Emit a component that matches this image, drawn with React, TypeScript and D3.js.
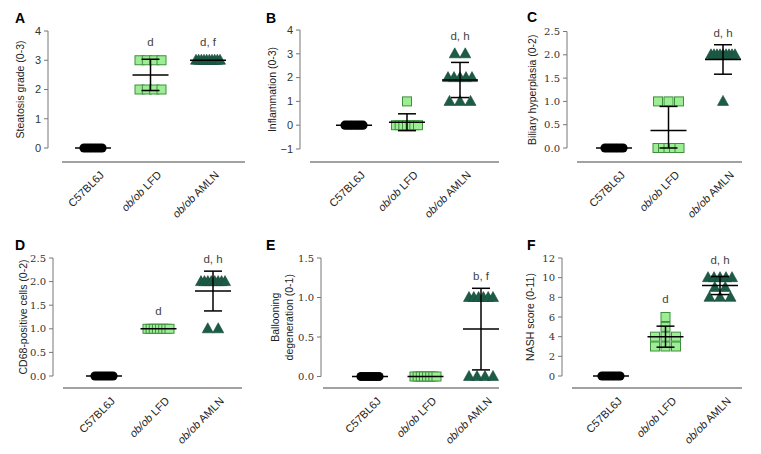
import React from 'react';
import * as d3 from 'd3';

// ---------- data ----------
const categories = ['C57BL6J', 'ob/ob LFD', 'ob/ob AMLN'];

// A: Steatosis grade (0-3)
const steatosisC57 = [0, 0, 0, 0, 0, 0, 0, 0];
const steatosisLFD = [3, 3, 3, 3, 2, 2, 2, 2];
const steatosisAMLN = [3, 3, 3, 3, 3, 3, 3, 3, 3, 3];
const steatosisSig = ['', 'd', 'd, f'];
const steatosisTicks = [0, 1, 2, 3, 4];

// B: Inflammation (0-3)
const inflammationC57 = [0, 0, 0, 0, 0, 0, 0, 0];
const inflammationLFD = [1, 0, 0, 0, 0, 0, 0, 0];
const inflammationAMLN = [3, 3, 2, 2, 2, 2, 2, 1, 1, 1];
const inflammationSig = ['', '', 'd, h'];
const inflammationTicks = [-1, 0, 1, 2, 3, 4];

// C: Biliary hyperplasia (0-2)
const biliaryC57 = [0, 0, 0, 0, 0, 0, 0, 0];
const biliaryLFD = [1, 1, 1, 0, 0, 0, 0, 0];
const biliaryAMLN = [2, 2, 2, 2, 2, 2, 2, 2, 2, 1];
const biliarySig = ['', '', 'd, h'];
const biliaryTicks = [0, 0.5, 1, 1.5, 2, 2.5];

// D: CD68-positive cells (0-2)
const cd68C57 = [0, 0, 0, 0, 0, 0, 0, 0];
const cd68LFD = [1, 1, 1, 1, 1, 1, 1, 1];
const cd68AMLN = [2, 2, 2, 2, 2, 2, 2, 2, 1, 1];
const cd68Sig = ['', 'd', 'd, h'];
const cd68Ticks = [0, 0.5, 1, 1.5, 2, 2.5];

// E: Ballooning degeneration (0-1)
const balloonC57 = [0, 0, 0, 0, 0, 0, 0, 0];
const balloonLFD = [0, 0, 0, 0, 0, 0, 0, 0];
const balloonAMLN = [1, 1, 1, 1, 1, 1, 0, 0, 0, 0];
const balloonSig = ['', '', 'b, f'];
const balloonTicks = [0, 0.5, 1, 1.5];

// F: NASH score (0-11)
const nashC57 = [0, 0, 0, 0, 0, 0, 0, 0];
const nashLFD = [6, 5, 4, 4, 4, 3, 3, 3];
const nashAMLN = [10, 10, 10, 10, 10, 9, 9, 8, 8, 8];
const nashSig = ['', 'd', 'd, h'];
const nashTicks = [0, 2, 4, 6, 8, 10, 12];

// ---------- layout ----------
const SANS = 'Liberation Sans, Arial, sans-serif';
const SERIF = 'DejaVu Serif, serif';

type Panel = {
  letter: string; lx: number; ly: number;
  axisX: number; yTop: number; yBottom: number;
  xAxisY: number; xAxisFrom: number; xAxisTo: number;
  catFrom: number; catTo: number;
  titleX: number; title: string[];
  domain: [number, number]; ticks: number[]; fmt: (v: number) => string; tickFont: string;
  groups: number[][]; sig: string[];
};

const f0 = d3.format('d');
const f1 = d3.format('.1f');

const panels: Panel[] = [
  { letter: 'A', lx: 15, ly: 23, axisX: 48, yTop: 31, yBottom: 148, xAxisY: 162, xAxisFrom: 62, xAxisTo: 245,
    catFrom: 93, catTo: 208, titleX: 20, title: ['Steatosis grade (0-3)'], domain: [0, 4], ticks: steatosisTicks,
    fmt: f0, tickFont: SANS, groups: [steatosisC57, steatosisLFD, steatosisAMLN], sig: steatosisSig },
  { letter: 'B', lx: 266, ly: 23, axisX: 300, yTop: 30, yBottom: 149, xAxisY: 162, xAxisFrom: 310, xAxisTo: 499,
    catFrom: 354, catTo: 460, titleX: 272, title: ['Inflammation (0-3)'], domain: [-1, 4], ticks: inflammationTicks,
    fmt: f0, tickFont: SANS, groups: [inflammationC57, inflammationLFD, inflammationAMLN], sig: inflammationSig },
  { letter: 'C', lx: 527, ly: 22, axisX: 567, yTop: 31.5, yBottom: 148, xAxisY: 162, xAxisFrom: 577, xAxisTo: 742,
    catFrom: 614, catTo: 723, titleX: 532, title: ['Biliary hyperplasia (0-2)'], domain: [0, 2.5], ticks: biliaryTicks,
    fmt: f1, tickFont: SERIF, groups: [biliaryC57, biliaryLFD, biliaryAMLN], sig: biliarySig },
  { letter: 'D', lx: 15, ly: 250, axisX: 53, yTop: 258, yBottom: 376, xAxisY: 388, xAxisFrom: 63, xAxisTo: 242,
    catFrom: 104, catTo: 213, titleX: 23, title: ['CD68-positive cells (0-2)'], domain: [0, 2.5], ticks: cd68Ticks,
    fmt: f1, tickFont: SERIF, groups: [cd68C57, cd68LFD, cd68AMLN], sig: cd68Sig },
  { letter: 'E', lx: 266, ly: 250, axisX: 321, yTop: 258, yBottom: 376.5, xAxisY: 388, xAxisFrom: 323, xAxisTo: 499,
    catFrom: 370, catTo: 481, titleX: 281, title: ['Ballooning', 'degeneration (0-1)'], domain: [0, 1.5], ticks: balloonTicks,
    fmt: f1, tickFont: SERIF, groups: [balloonC57, balloonLFD, balloonAMLN], sig: balloonSig },
  { letter: 'F', lx: 527, ly: 250, axisX: 562, yTop: 258, yBottom: 376, xAxisY: 388, xAxisFrom: 572, xAxisTo: 742,
    catFrom: 611, catTo: 720, titleX: 530, title: ['NASH score (0-11)'], domain: [0, 12], ticks: nashTicks,
    fmt: f0, tickFont: SERIF, groups: [nashC57, nashLFD, nashAMLN], sig: nashSig },
];

const MARK = 9;
const MAXW = [27, 31, 33];
const SQUARE_FILL = '#9ded95';
const SQUARE_STROKE = '#3f8f3f';
const TRI_FILL = '#1c5c46';

function swarm(values: number[], maxW: number): { v: number; dx: number }[] {
  const groups = d3.group(values, (v) => v);
  const out: { v: number; dx: number }[] = [];
  groups.forEach((arr, v) => {
    const k = arr.length;
    const sp = k > 1 ? Math.min(10.5, (maxW - MARK) / (k - 1)) : 0;
    arr.forEach((_, i) => out.push({ v, dx: (i - (k - 1) / 2) * sp }));
  });
  return out;
}

function Marker({ kind, x, y }: { kind: number; x: number; y: number }) {
  if (kind === 0) return <circle cx={x} cy={y} r={4.6} fill="#000" />;
  if (kind === 1)
    return <rect x={x - 4.5} y={y - 4.5} width={9} height={9} fill={SQUARE_FILL} stroke={SQUARE_STROKE} strokeWidth={1} />;
  return <path d={`M${x},${y - 6}L${x + 5.5},${y + 4}L${x - 5.5},${y + 4}Z`} fill={TRI_FILL} stroke="#164a38" strokeWidth={0.6} />;
}

function PanelView({ p }: { p: Panel }) {
  const y = d3.scaleLinear().domain(p.domain).range([p.yBottom, p.yTop]).clamp(true);
  const x = d3.scalePoint<string>().domain(categories).range([p.catFrom, p.catTo]);
  const midY = (p.yTop + p.yBottom) / 2;
  return (
    <g>
      <text x={p.lx} y={p.ly} fontFamily={SANS} fontWeight="bold" fontSize={14} fill="#000">{p.letter}</text>
      {/* y axis */}
      <line x1={p.axisX} x2={p.axisX} y1={y(p.domain[1])} y2={y(p.domain[0])} stroke="#777" strokeWidth={1} />
      {p.ticks.map((t) => (
        <g key={t}>
          <line x1={p.axisX - 4} x2={p.axisX} y1={y(t)} y2={y(t)} stroke="#777" strokeWidth={1} />
          <text x={p.axisX - 7} y={y(t)} dy="0.35em" textAnchor="end" fontFamily={p.tickFont} fontSize={p.tickFont === SERIF ? 10 : 11} fill="#333">
            {p.fmt(t)}
          </text>
        </g>
      ))}
      {/* y title */}
      <text transform={`translate(${p.titleX},${midY}) rotate(-90)`} textAnchor="middle" fontFamily={SANS} fontSize={10.5} fill="#222">
        {p.title.map((t, i) => (
          <tspan key={i} x={0} dy={i === 0 ? (p.title.length > 1 ? '-0.2em' : '0.35em') : '1.3em'}>{t}</tspan>
        ))}
      </text>
      {/* x axis */}
      <line x1={p.xAxisFrom} x2={p.xAxisTo} y1={p.xAxisY} y2={p.xAxisY} stroke="#444" strokeWidth={1} />
      {categories.map((c) => {
        const italic = c.startsWith('ob/ob');
        return (
          <text key={c} transform={`translate(${(x(c) as number) + 9},${p.xAxisY + 11}) rotate(-45)`} textAnchor="end"
            fontFamily={SANS} fontSize={11} fill="#222" dy="0.35em">
            {italic ? (<><tspan fontStyle="italic">ob/ob</tspan>{c.slice(5)}</>) : c}
          </text>
        );
      })}
      {/* points */}
      {p.groups.map((vals, gi) => {
        const cx = x(categories[gi]) as number;
        return (
          <g key={gi}>
            {swarm(vals, MAXW[gi]).map((d, i) => (
              <Marker key={i} kind={gi} x={cx + d.dx} y={y(d.v)} />
            ))}
          </g>
        );
      })}
      {/* mean +/- SD */}
      {p.groups.map((vals, gi) => {
        const cx = x(categories[gi]) as number;
        const m = d3.mean(vals) as number;
        const sd = d3.deviation(vals) || 0;
        const yHi = y(m + sd);
        const yLo = y(m - sd);
        const top = Math.min(y(d3.max(vals) as number) - 6, yHi);
        return (
          <g key={'e' + gi} stroke="#000" strokeWidth={1.5}>
            <line x1={cx - 18} x2={cx + 18} y1={y(m)} y2={y(m)} />
            {sd > 0 && (
              <>
                <line x1={cx} x2={cx} y1={yHi} y2={yLo} />
                <line x1={cx - 9} x2={cx + 9} y1={yHi} y2={yHi} />
                <line x1={cx - 9} x2={cx + 9} y1={yLo} y2={yLo} />
              </>
            )}
            {p.sig[gi] && (
              <text x={cx} y={top - 8} textAnchor="middle" fontFamily={SANS} fontSize={11.5} fill="#444" stroke="none">
                {p.sig[gi]}
              </text>
            )}
          </g>
        );
      })}
    </g>
  );
}

export default function App() {
  return (
    <svg width={761} height={454} style={{ position: 'absolute', left: 0, top: 0, background: '#fff' }}>
      <rect width={761} height={454} fill="#fff" />
      {panels.map((p) => (
        <PanelView key={p.letter} p={p} />
      ))}
    </svg>
  );
}
